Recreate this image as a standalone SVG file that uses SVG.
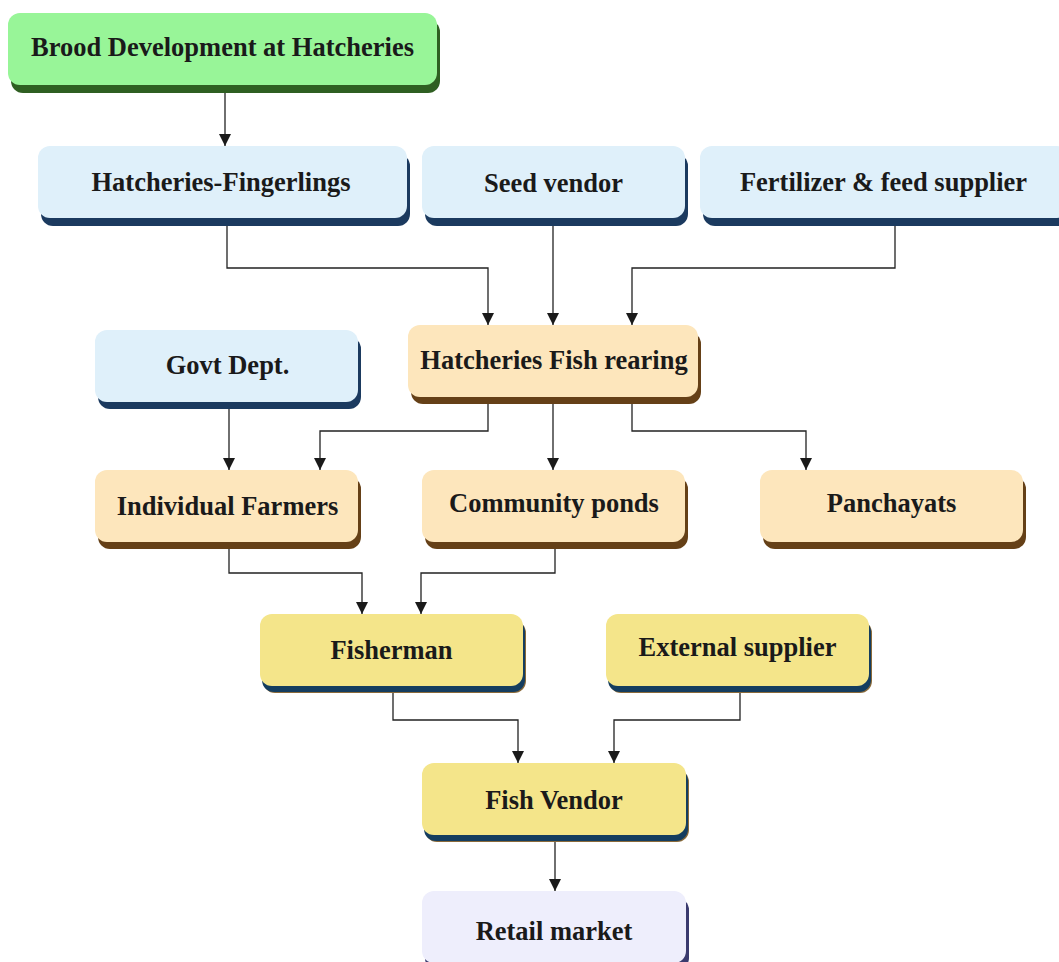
<svg xmlns="http://www.w3.org/2000/svg" width="1059" height="962" viewBox="0 0 1059 962">
<style>
text{font-family:"Liberation Serif","Times New Roman",serif;font-weight:bold;font-size:26.5px;fill:#1a1a1a;text-anchor:middle;dominant-baseline:central}
.c{fill:none;stroke:#222;stroke-width:1.3}
</style>
<defs>
<marker id="ah" viewBox="0 0 12 12" refX="12" refY="6" markerWidth="12" markerHeight="12" markerUnits="userSpaceOnUse" orient="auto">
<path d="M0,0 L12,6 L0,12 z" fill="#1a1a1a"/>
</marker>
</defs>
<rect width="1059" height="962" fill="#fff"/>
<g id="connectors">
<path class="c" d="M225,90 V146" marker-end="url(#ah)"/>
<path class="c" d="M227,224 V268 H488 V325" marker-end="url(#ah)"/>
<path class="c" d="M553,224 V325" marker-end="url(#ah)"/>
<path class="c" d="M895,224 V268 H632 V325" marker-end="url(#ah)"/>
<path class="c" d="M488,403 V431 H320 V470" marker-end="url(#ah)"/>
<path class="c" d="M553,403 V470" marker-end="url(#ah)"/>
<path class="c" d="M632,403 V431 H806 V470" marker-end="url(#ah)"/>
<path class="c" d="M229,408 V470" marker-end="url(#ah)"/>
<path class="c" d="M229,548 V573 H362 V614" marker-end="url(#ah)"/>
<path class="c" d="M555,548 V573 H421 V614" marker-end="url(#ah)"/>
<path class="c" d="M393,692 V720 H518 V763" marker-end="url(#ah)"/>
<path class="c" d="M740,692 V720 H614 V763" marker-end="url(#ah)"/>
<path class="c" d="M555,842 V891" marker-end="url(#ah)"/>
</g>
<g id="brood">
<rect x="11" y="20" width="429" height="73" rx="12" fill="#2f5f22"/>
<rect x="8" y="13" width="429" height="72" rx="12" fill="#98f598"/>
<text x="222.5" y="47">Brood Development at Hatcheries</text>
</g>
<g id="fingerlings">
<rect x="41" y="154" width="369" height="72" rx="12" fill="#1b3a5f"/>
<rect x="38" y="146" width="369" height="72" rx="12" fill="#dff0fa"/>
<text x="221" y="182">Hatcheries-Fingerlings</text>
</g>
<g id="seed">
<rect x="425" y="154" width="263" height="72" rx="12" fill="#1b3a5f"/>
<rect x="422" y="146" width="263" height="72" rx="12" fill="#dff0fa"/>
<text x="553.5" y="183">Seed vendor</text>
</g>
<g id="fertilizer">
<rect x="703" y="154" width="369" height="72" rx="12" fill="#1b3a5f"/>
<rect x="700" y="146" width="369" height="72" rx="12" fill="#dff0fa"/>
<text x="883.5" y="182">Fertilizer &amp; feed supplier</text>
</g>
<g id="rearing">
<rect x="411" y="332" width="290" height="72" rx="12" fill="#654017"/>
<rect x="408" y="325" width="290" height="72" rx="12" fill="#fde6bc"/>
<text x="554" y="360">Hatcheries Fish rearing</text>
</g>
<g id="govt">
<rect x="98" y="337" width="263" height="72" rx="12" fill="#1b3a5f"/>
<rect x="95" y="330" width="263" height="72" rx="12" fill="#dff0fa"/>
<text x="227.5" y="365">Govt Dept.</text>
</g>
<g id="individual">
<rect x="98" y="477" width="263" height="72" rx="12" fill="#654017"/>
<rect x="95" y="470" width="263" height="72" rx="12" fill="#fde6bc"/>
<text x="227.5" y="506">Individual Farmers</text>
</g>
<g id="community">
<rect x="425" y="477" width="263" height="72" rx="12" fill="#654017"/>
<rect x="422" y="470" width="263" height="72" rx="12" fill="#fde6bc"/>
<text x="554" y="503">Community ponds</text>
</g>
<g id="panchayats">
<rect x="763" y="477" width="263" height="72" rx="12" fill="#654017"/>
<rect x="760" y="470" width="263" height="72" rx="12" fill="#fde6bc"/>
<text x="891.5" y="503">Panchayats</text>
</g>
<g id="fisherman">
<rect x="263" y="621" width="263" height="72" rx="12" fill="#8a6a3a"/>
<rect x="262" y="620" width="263" height="72" rx="12" fill="#143d5f"/>
<rect x="260" y="614" width="263" height="72" rx="12" fill="#f4e58a"/>
<text x="391.5" y="650">Fisherman</text>
</g>
<g id="external">
<rect x="609" y="621" width="263" height="72" rx="12" fill="#8a6a3a"/>
<rect x="608" y="620" width="263" height="72" rx="12" fill="#143d5f"/>
<rect x="606" y="614" width="263" height="72" rx="12" fill="#f4e58a"/>
<text x="737.5" y="647">External supplier</text>
</g>
<g id="vendor">
<rect x="425" y="770" width="264" height="72" rx="12" fill="#8a6a3a"/>
<rect x="424" y="769" width="264" height="72" rx="12" fill="#143d5f"/>
<rect x="422" y="763" width="264" height="72" rx="12" fill="#f4e58a"/>
<text x="554" y="800">Fish Vendor</text>
</g>
<g id="retail">
<rect x="425" y="898" width="264" height="72" rx="12" fill="#3a3a6e"/>
<rect x="422" y="891" width="264" height="72" rx="12" fill="#eeeefc"/>
<text x="554" y="931">Retail market</text>
</g>
</svg>
